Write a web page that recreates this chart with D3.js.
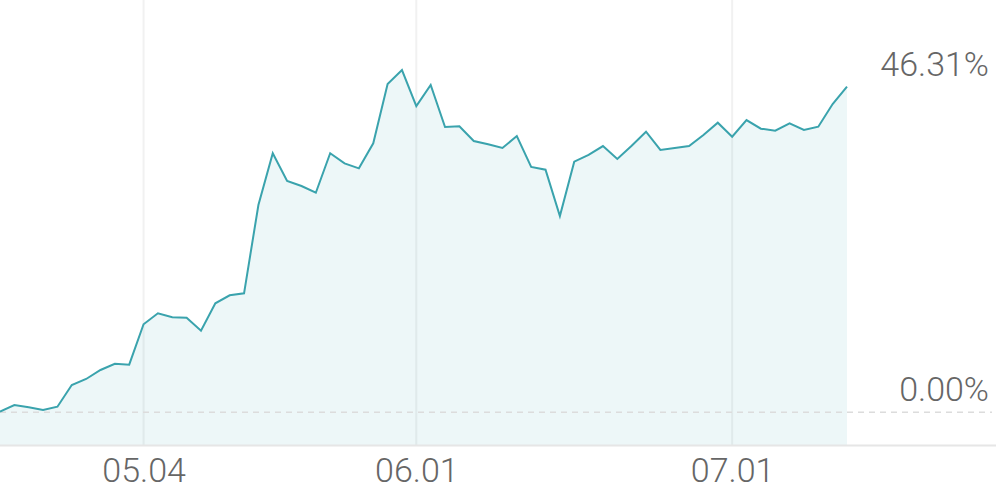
<!DOCTYPE html>
<html>
<head>
<meta charset="utf-8">
<script src="https://cdn.jsdelivr.net/npm/d3@7"></script>
<style>
  html, body { margin: 0; padding: 0; background: #fff; }
  svg text { font-family: Roboto, "Noto Sans", sans-serif; font-weight: 300; fill: #666; }
</style>
</head>
<body>
<svg id="chart"></svg>
<script>
// trading days (MM.DD)
const dates = [
  "04.20", "04.21", "04.22", "04.23", "04.24", "04.27", "04.28", "04.29", "04.30", "05.01",
  "05.04", "05.05", "05.06", "05.07", "05.08", "05.11", "05.12", "05.13", "05.14", "05.15",
  "05.18", "05.19", "05.20", "05.21", "05.22", "05.26", "05.27", "05.28", "05.29", "06.01",
  "06.02", "06.03", "06.04", "06.05", "06.08", "06.09", "06.10", "06.11", "06.12", "06.15",
  "06.16", "06.17", "06.18", "06.19", "06.22", "06.23", "06.24", "06.25", "06.26", "06.29",
  "06.30", "07.01", "07.02", "07.06", "07.07", "07.08", "07.09", "07.10", "07.13", "07.14"
];

// cumulative return, %
const returns = [
  0.09, 1.04, 0.71, 0.33, 0.80, 3.88, 4.74, 6.02, 6.91, 6.77,
  12.52, 14.08, 13.51, 13.45, 11.61, 15.50, 16.64, 16.92, 29.48, 36.84,
  32.90, 32.19, 31.23, 36.84, 35.41, 34.70, 38.26, 46.69, 48.68, 43.56,
  46.55, 40.58, 40.68, 38.59, 38.12, 37.59, 39.30, 34.89, 34.50, 27.91,
  35.64, 36.60, 37.87, 36.03, 37.92, 39.91, 37.31, 37.59, 37.87, 39.44,
  41.19, 39.20, 41.57, 40.34, 40.05, 41.10, 40.15, 40.62, 43.85, 46.31
];

const xTicks = ["05.04", "06.01", "07.01"];

const width = 996, height = 490;
const plotRight = 847, plotBottom = 445;

const svg = d3.select("#chart")
  .attr("width", width)
  .attr("height", height);

const x = d3.scalePoint()
  .domain(dates)
  .range([0, plotRight]);

const y = d3.scaleLinear()
  .domain([-4.65, 58.64])
  .range([plotBottom, 0]);

// vertical grid at the date ticks
svg.selectAll(".grid")
  .data(xTicks)
  .join("line")
    .attr("class", "grid")
    .attr("x1", d => x(d))
    .attr("x2", d => x(d))
    .attr("y1", 0)
    .attr("y2", plotBottom)
    .attr("stroke", "#f1f1f1")
    .attr("stroke-width", 2);

const area = d3.area()
  .x((d, i) => x(dates[i]))
  .y0(plotBottom)
  .y1(d => y(d));

const line = d3.line()
  .x((d, i) => x(dates[i]))
  .y(d => y(d));

svg.append("path")
  .datum(returns)
  .attr("d", area)
  .attr("fill", "#3aa6ae")
  .attr("fill-opacity", 0.09);

// zero line
svg.append("line")
  .attr("x1", 0)
  .attr("x2", 992)
  .attr("y1", y(0))
  .attr("y2", y(0))
  .attr("stroke", "#dcdcdc")
  .attr("stroke-width", 1.5)
  .attr("stroke-dasharray", "6,5");

svg.append("path")
  .datum(returns)
  .attr("d", line)
  .attr("fill", "none")
  .attr("stroke", "#3aa3ad")
  .attr("stroke-width", 2)
  .attr("stroke-linejoin", "miter");

// bottom axis
const xAxis = d3.axisBottom(x)
  .tickValues(xTicks)
  .tickSize(0)
  .tickPadding(13);

const gx = svg.append("g")
  .attr("transform", `translate(0,${plotBottom})`)
  .call(xAxis);
gx.select(".domain").remove();
gx.selectAll("text")
  .attr("font-size", 34)
  .attr("font-family", null)
  .attr("fill", "#666")
  .attr("dy", "0.7em");

svg.append("line")
  .attr("x1", 0)
  .attr("x2", width)
  .attr("y1", plotBottom + 0.5)
  .attr("y2", plotBottom + 0.5)
  .attr("stroke", "#e6e6e6")
  .attr("stroke-width", 2);

// value labels on the right: latest return and zero
const last = returns[returns.length - 1];
const yLabels = [last, 0];
svg.selectAll(".ylabel")
  .data(yLabels)
  .join("text")
    .attr("class", "ylabel")
    .attr("x", 989)
    .attr("y", d => y(d) - 11)
    .attr("text-anchor", "end")
    .attr("font-size", 34)
    .text(d => d.toFixed(2) + "%");
</script>
</body>
</html>
